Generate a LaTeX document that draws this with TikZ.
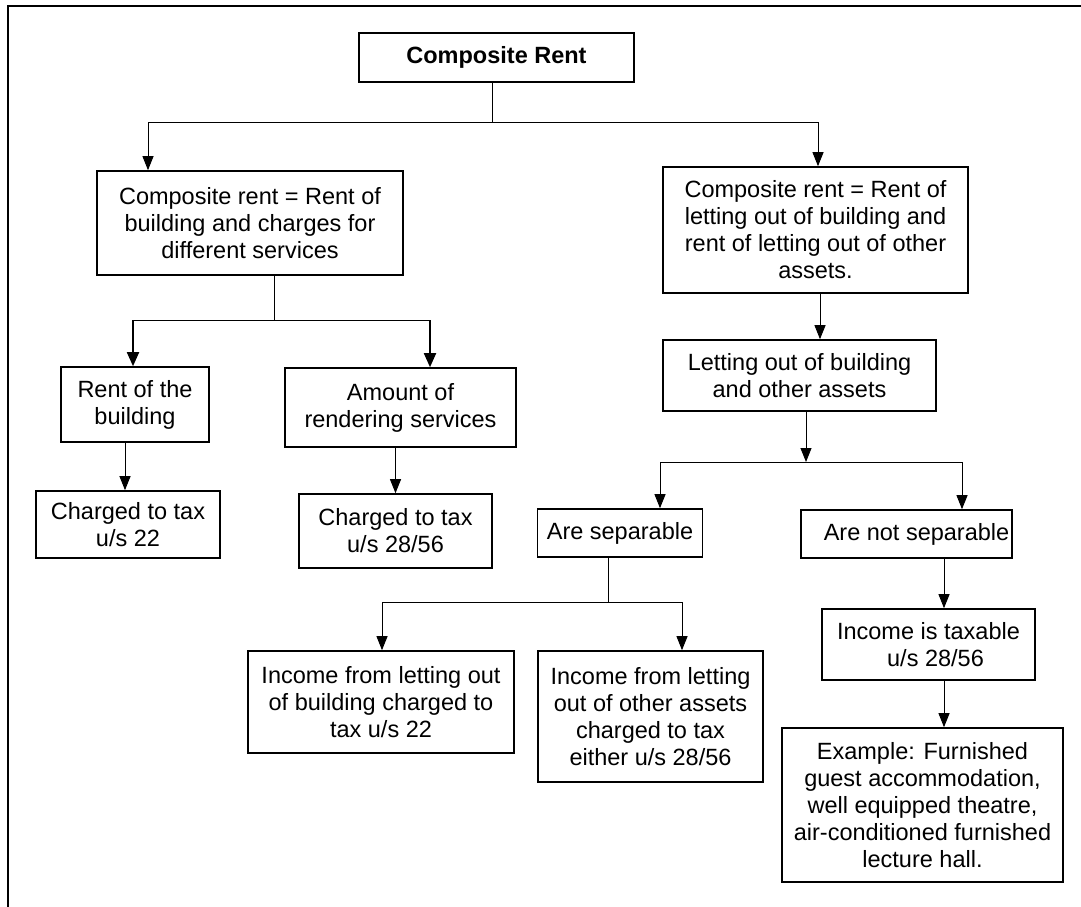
\documentclass[tikz,border=0pt]{standalone}
\usepackage{fontspec}
\setmainfont{Liberation Sans}
\usetikzlibrary{arrows.meta}
\tikzset{
  box/.style={draw, line width=1.6pt, inner sep=0pt, align=center, font=\fontsize{23.5}{27}\selectfont},
  conn/.style={line width=0.9pt},
  arr/.style={line width=0.9pt, -{Triangle[length=14pt,width=11pt]}},
  arrthick/.style={line width=1.8pt, -{Triangle[length=14pt,width=12pt]}},
}
\begin{document}
\begin{tikzpicture}[x=1pt,y=-1pt]
\useasboundingbox (0,0) rectangle (1081,907);
% frame
\draw[line width=1.4pt] (8,907) -- (8,6) -- (1081,6);

\node[box, minimum width=275pt, minimum height=49pt, font=\fontsize{23.5}{27}\selectfont\bfseries] (top) at (496.5,57.5) {Composite Rent};
\node[box, minimum width=306pt, minimum height=104pt] (L1) at (250,223) {Composite rent = Rent of\\building and charges for\\different services};
\node[box, minimum width=305pt, minimum height=126pt] (R1) at (815.5,230) {Composite rent = Rent of\\letting out of building and\\rent of letting out of other\\assets.};
\node[box, minimum width=148pt, minimum height=75pt] (RB) at (135,404.5) {Rent of the\\building};
\node[box, minimum width=231pt, minimum height=79pt] (AR) at (400.5,407.5) {Amount of\\rendering services};
\node[box, minimum width=184pt, minimum height=67pt] (C22) at (128,524.5) {Charged to tax\\u/s 22};
\node[box, minimum width=193pt, minimum height=74pt] (C28) at (395.5,531) {Charged to tax\\u/s 28/56};
\node[box, minimum width=273pt, minimum height=71pt] (LO) at (799.5,375.5) {Letting out of building\\and other assets};
\node[box, minimum width=165pt, minimum height=48pt] (AS) at (620,533) {Are separable};
\node[box, minimum width=211pt, minimum height=48pt] (ANS) at (906.5,534) {\hspace*{20pt}Are not separable};
\node[box, minimum width=266pt, minimum height=102pt] (IB) at (381,702) {Income from letting out\\of building charged to\\tax u/s 22};
\node[box, minimum width=225pt, minimum height=131pt] (IO) at (650.5,716.5) {Income from letting\\out of other assets\\charged to tax\\either u/s 28/56};
\node[box, minimum width=213pt, minimum height=71pt] (IT) at (928.5,644.5) {Income is taxable\\\hspace*{14pt}u/s 28/56};
\node[box, minimum width=281pt, minimum height=154pt] (EX) at (922.5,805) {Example: Furnished\\guest accommodation,\\well equipped theatre,\\air-conditioned furnished\\lecture hall.};

% junctions
\coordinate (j0) at (492,122);
\coordinate (j0l) at (148,122);
\coordinate (j0r) at (818,122);
\coordinate (j1) at (274,320);
\coordinate (j1l) at (133,320);
\coordinate (j1r) at (430,320);
\coordinate (j2) at (806,462);
\coordinate (j2l) at (660,462);
\coordinate (j2r) at (962,462);
\coordinate (j3) at (608,602);
\coordinate (j3l) at (382,602);
\coordinate (j3r) at (682,602);

% top level
\draw[conn] (top.south -| j0) -- (j0);
\draw[conn] (j0l) -- (j0r);
\draw[arr] (j0l) -- (j0l |- L1.north);
\draw[arr] (j0r) -- (j0r |- R1.north);

% left branch
\draw[conn] (L1.south -| j1) -- (j1);
\draw[conn] (j1l) -- (j1r);
\draw[arrthick] (j1l) -- (j1l |- RB.north);
\draw[arrthick] (j1r) -- (j1r |- AR.north);
\draw[arr] ([xshift=-10pt]RB.south) -- ([xshift=-10pt]RB.south |- C22.north);
\draw[arr] (AR.south -| C28.north) -- (C28.north);

% right branch
\draw[arr] ([xshift=4.5pt]R1.south) -- ([xshift=4.5pt]R1.south |- LO.north);
\draw[arr] (LO.south -| j2) -- (j2);
\draw[conn] (j2l) -- (j2r);
\draw[arr] (j2l) -- (j2l |- AS.north);
\draw[arr] (j2r) -- (j2r |- ANS.north);

\draw[conn] (AS.south -| j3) -- (j3);
\draw[conn] (j3l) -- (j3r);
\draw[arr] (j3l) -- (j3l |- IB.north);
\draw[arr] (j3r) -- (j3r |- IO.north);

\draw[arr] ([xshift=37.5pt]ANS.south) -- ([xshift=37.5pt]ANS.south |- IT.north);
\draw[arr] ([xshift=15.5pt]IT.south) -- ([xshift=15.5pt]IT.south |- EX.north);
\end{tikzpicture}
\end{document}
